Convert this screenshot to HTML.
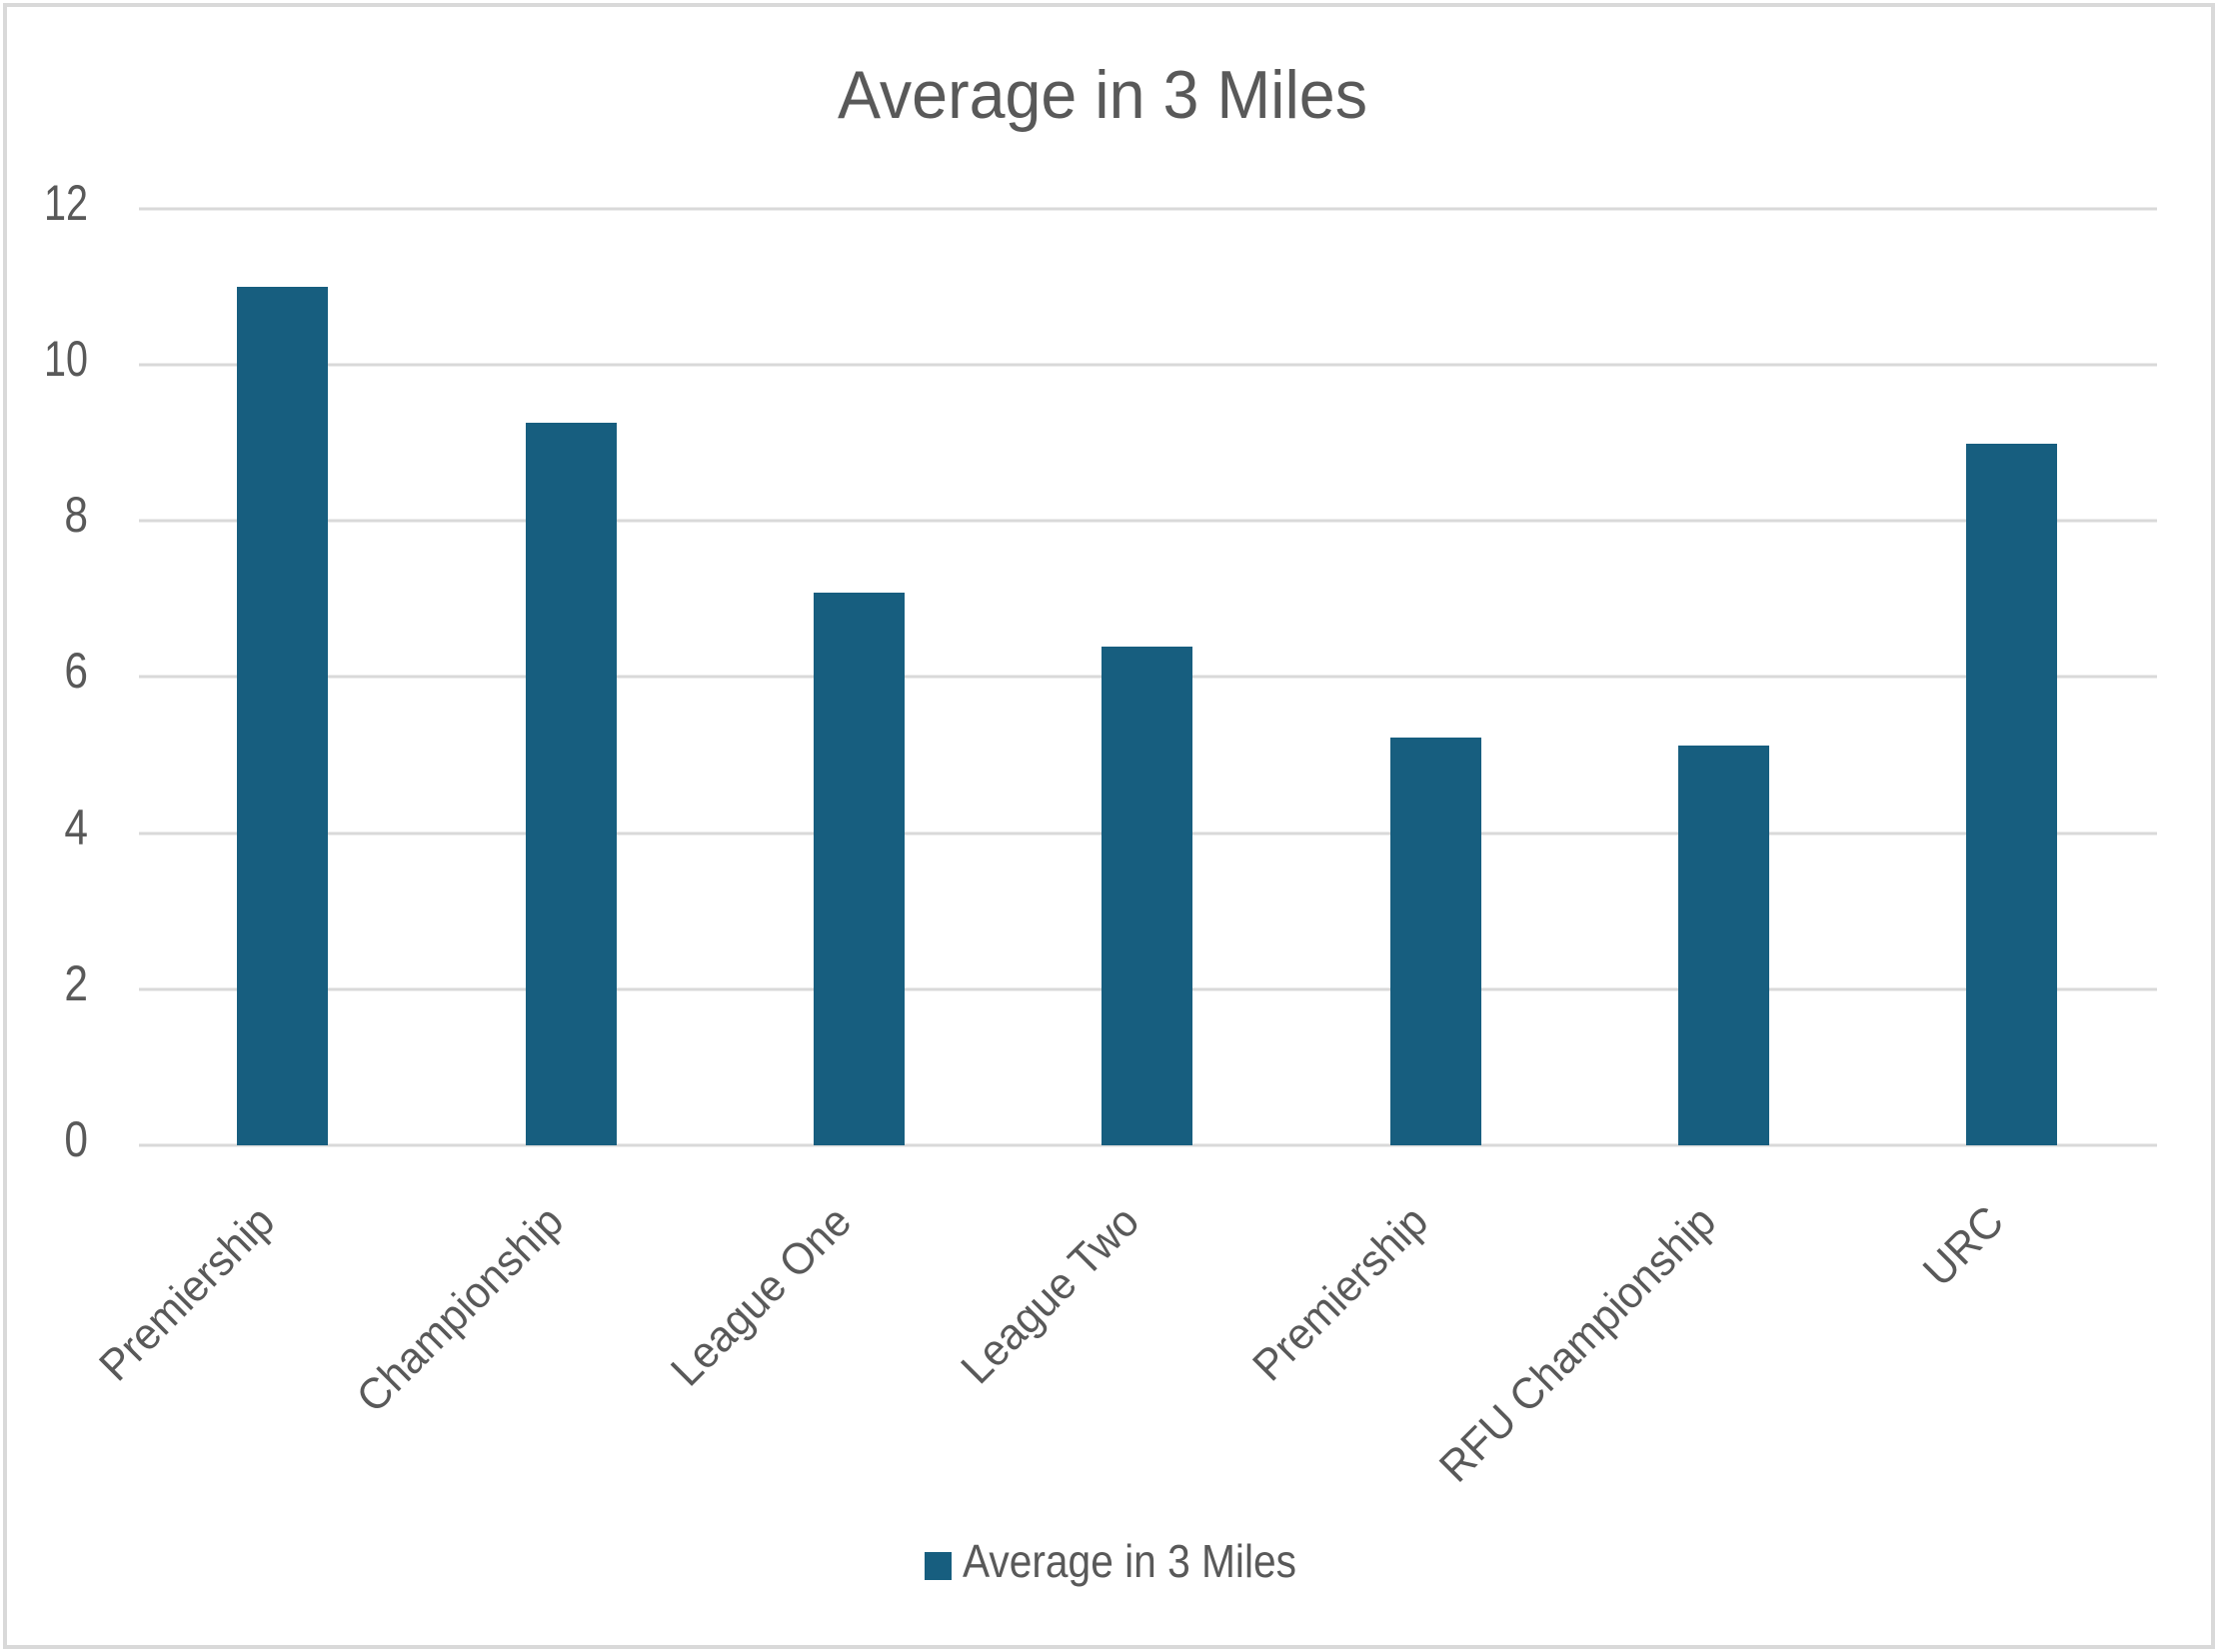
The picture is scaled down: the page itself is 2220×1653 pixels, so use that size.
<!DOCTYPE html>
<html><head><meta charset="utf-8"><style>
html,body{margin:0;padding:0;background:#fff;}
svg{display:block;}
text{font-family:"Liberation Sans",Arial,sans-serif;fill:#595959;}
</style></head><body>
<svg width="2220" height="1653" viewBox="0 0 2220 1653" xmlns="http://www.w3.org/2000/svg">
<rect x="0" y="0" width="2220" height="1653" fill="#fff"/>
<rect x="5" y="5" width="2209" height="1643" fill="none" stroke="#d9d9d9" stroke-width="4"/>
<text x="1103" y="118" font-size="68" text-anchor="middle" textLength="530" lengthAdjust="spacingAndGlyphs">Average in 3 Miles</text>
<g stroke="#d9d9d9" stroke-width="3">
<line x1="139" x2="2158" y1="209" y2="209"/>
<line x1="139" x2="2158" y1="365" y2="365"/>
<line x1="139" x2="2158" y1="521" y2="521"/>
<line x1="139" x2="2158" y1="677" y2="677"/>
<line x1="139" x2="2158" y1="834" y2="834"/>
<line x1="139" x2="2158" y1="990" y2="990"/>
<line x1="139" x2="2158" y1="1146" y2="1146"/>
</g>
<g font-size="50" text-anchor="end">
<text x="88" y="220" textLength="44" lengthAdjust="spacingAndGlyphs">12</text>
<text x="88" y="376" textLength="44" lengthAdjust="spacingAndGlyphs">10</text>
<text transform="translate(88,532) scale(0.85,1)">8</text>
<text transform="translate(88,688) scale(0.85,1)">6</text>
<text transform="translate(88,845) scale(0.85,1)">4</text>
<text transform="translate(88,1001) scale(0.85,1)">2</text>
<text transform="translate(88,1157) scale(0.85,1)">0</text>
</g>
<g fill="#175e7f">
<rect x="237" y="287" width="91" height="859"/>
<rect x="526" y="423" width="91" height="723"/>
<rect x="814" y="593" width="91" height="553"/>
<rect x="1102" y="647" width="91" height="499"/>
<rect x="1391" y="738" width="91" height="408"/>
<rect x="1679" y="746" width="91" height="400"/>
<rect x="1967" y="444" width="91" height="702"/>
</g>
<g font-size="44" text-anchor="end">
<text transform="translate(277,1225) rotate(-45) scale(0.96,1)">Premiership</text>
<text transform="translate(566,1225) rotate(-45) scale(0.96,1)">Championship</text>
<text transform="translate(854,1225) rotate(-45) scale(0.96,1)">League One</text>
<text transform="translate(1142,1225) rotate(-45) scale(0.96,1)">League Two</text>
<text transform="translate(1431,1225) rotate(-45) scale(0.96,1)">Premiership</text>
<text transform="translate(1719,1225) rotate(-45) scale(0.96,1)">RFU Championship</text>
<text transform="translate(2007,1225) rotate(-45) scale(0.96,1)">URC</text>
</g>
<rect x="925" y="1553" width="27" height="28" fill="#175e7f"/>
<text x="963" y="1578" font-size="46" textLength="334" lengthAdjust="spacingAndGlyphs">Average in 3 Miles</text>
</svg>
</body></html>
